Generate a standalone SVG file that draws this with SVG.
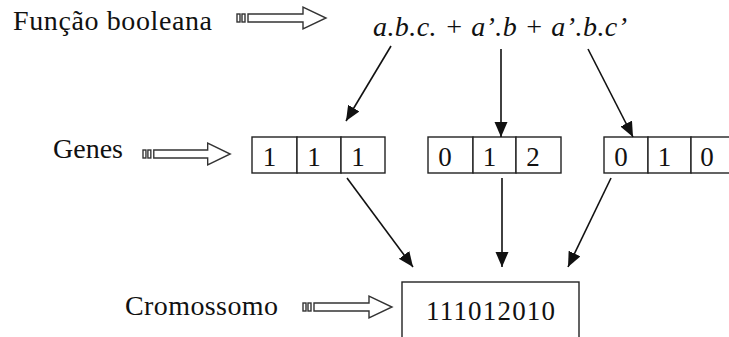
<svg xmlns="http://www.w3.org/2000/svg" xmlns:xlink="http://www.w3.org/1999/xlink" width="729" height="337" viewBox="0 0 729 337">
  <style>
    .lbl { font-family: "Liberation Serif", "Times New Roman", serif; font-size: 28px; fill: #111; }
    .expr { font-family: "Liberation Serif", "Times New Roman", serif; font-size: 28px; font-style: italic; fill: #111; }
    .digit { font-family: "Liberation Serif", "Times New Roman", serif; font-size: 27px; fill: #111; text-anchor: middle; }
    .cell { fill: #fff; stroke: #222; stroke-width: 1.4; }
    .conn { stroke: #111; stroke-width: 1.6; fill: none; marker-end: url(#head); }
    .block { fill: #fff; stroke: #333; stroke-width: 1.4; }
  </style>
  <defs>
    <marker id="head" markerUnits="userSpaceOnUse" markerWidth="16" markerHeight="14" refX="15" refY="6.5" orient="auto">
      <path d="M0,0 L15,6.5 L0,13 Z" fill="#111"/>
    </marker>
    <!-- striped block arrow, tail at origin, centred on y=0 -->
    <g id="blockArrow">
      <rect class="block" x="0" y="-4" width="3" height="8"/>
      <rect class="block" x="5" y="-4" width="3" height="8"/>
      <path class="block" d="M11,-4 H66 V-11 L89,0 L66,11 V4 H11 Z"/>
    </g>
  </defs>

  <rect width="729" height="337" fill="#fff"/>

  <!-- row labels with their pointers -->
  <g id="label-funcao">
    <text class="lbl" x="13" y="30" textLength="199">Função booleana</text>
    <use xlink:href="#blockArrow" transform="translate(237,18)"/>
  </g>
  <g id="label-genes">
    <text class="lbl" x="53" y="158" textLength="70">Genes</text>
    <use xlink:href="#blockArrow" transform="translate(143,154) scale(0.98,1)"/>
  </g>
  <g id="label-cromossomo">
    <text class="lbl" x="125" y="315" textLength="153">Cromossomo</text>
    <use xlink:href="#blockArrow" transform="translate(303,307)"/>
  </g>

  <!-- boolean expression -->
  <g id="expression">
    <text class="expr" x="373" y="36" textLength="254">a.b.c. + a’.b + a’.b.c’</text>
  </g>

  <!-- gene 1 -->
  <g id="gene1">
    <rect class="cell" x="252" y="137" width="45" height="36"/>
    <rect class="cell" x="297" y="137" width="44" height="36"/>
    <rect class="cell" x="341" y="137" width="44" height="36"/>
    <text class="digit" x="269.5" y="166">1</text>
    <text class="digit" x="314" y="166">1</text>
    <text class="digit" x="358" y="166">1</text>
  </g>

  <!-- gene 2 -->
  <g id="gene2">
    <rect class="cell" x="428" y="137" width="45" height="36"/>
    <rect class="cell" x="473" y="137" width="43" height="36"/>
    <rect class="cell" x="516" y="137" width="45" height="36"/>
    <text class="digit" x="445" y="166">0</text>
    <text class="digit" x="489.5" y="166">1</text>
    <text class="digit" x="533" y="166">2</text>
  </g>

  <!-- gene 3 -->
  <g id="gene3">
    <rect class="cell" x="604" y="137" width="44" height="36"/>
    <rect class="cell" x="648" y="137" width="43" height="36"/>
    <rect class="cell" x="691" y="137" width="45" height="36"/>
    <text class="digit" x="621" y="166">0</text>
    <text class="digit" x="664.5" y="166">1</text>
    <text class="digit" x="707" y="166">0</text>
  </g>

  <!-- chromosome -->
  <g id="chromosome">
    <rect class="cell" x="402" y="282" width="177" height="70"/>
    <text class="digit" x="490.5" y="320" font-size="27" textLength="129">111012010</text>
  </g>

  <!-- connectors -->
  <g id="connectors">
    <line class="conn" x1="391" y1="46" x2="346" y2="121"/>
    <line class="conn" x1="501" y1="49" x2="501" y2="137"/>
    <line class="conn" x1="588" y1="49" x2="633" y2="137"/>
    <line class="conn" x1="347" y1="178" x2="413" y2="267"/>
    <line class="conn" x1="502" y1="178" x2="502" y2="267"/>
    <line class="conn" x1="611" y1="178" x2="568" y2="267"/>
  </g>
</svg>
